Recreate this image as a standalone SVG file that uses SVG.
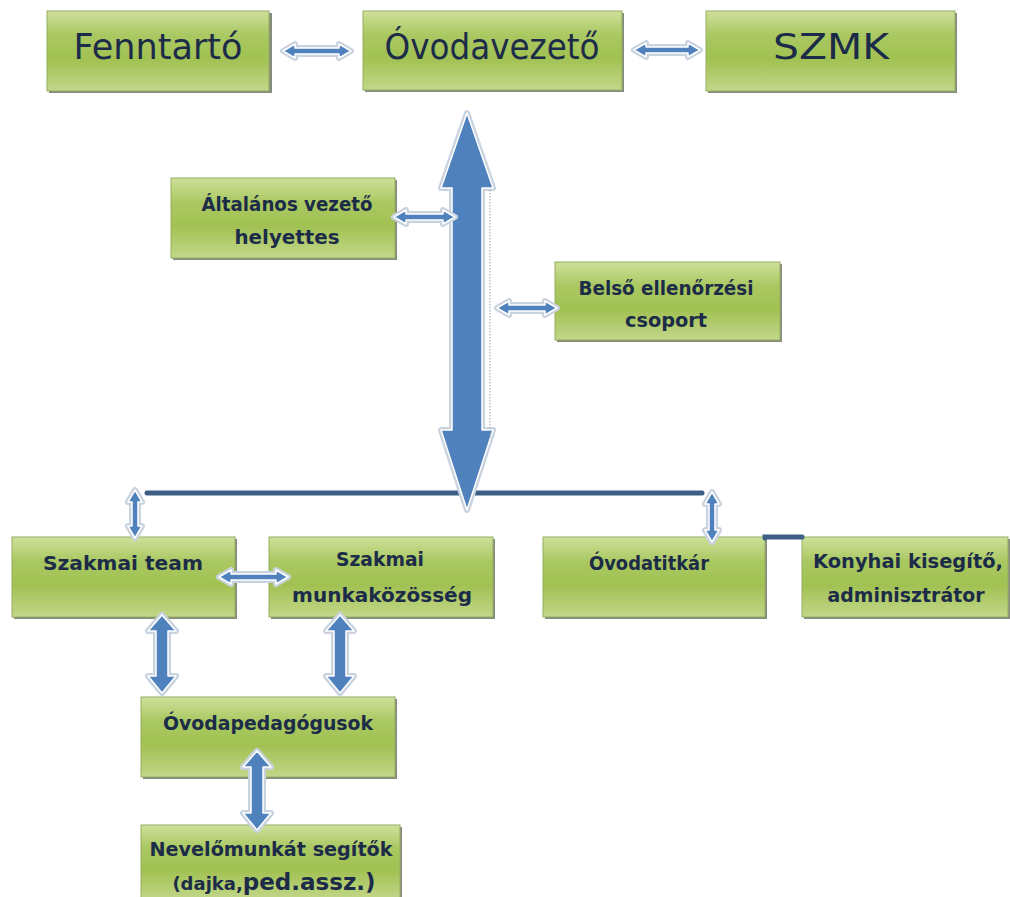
<svg xmlns="http://www.w3.org/2000/svg" width="1010" height="897" viewBox="0 0 1010 897">
<defs>
<linearGradient id="g" x1="0" y1="0" x2="0" y2="1">
<stop offset="0" stop-color="#cfe09b"/>
<stop offset="0.3" stop-color="#aac862"/>
<stop offset="0.6" stop-color="#a1c152"/>
<stop offset="1" stop-color="#c3d78a"/>
</linearGradient>
</defs>
<style>
.box{fill:url(#g);stroke:#93ad62;stroke-width:1}
.sh{fill:#5e6650;opacity:0.75}
.t{font-family:"DejaVu Sans",sans-serif;fill:#1c2c48;text-anchor:middle}
.big{font-size:35px}
.b{font-size:20px;font-weight:bold}
.halo{fill:#eef2f7;stroke:#c9d3df;stroke-width:6;stroke-linejoin:round}
.arr{fill:#4f81bd;stroke:#ffffff;stroke-width:1.5;stroke-linejoin:round}
.ln{fill:none;stroke:#3d5f87;stroke-width:5;stroke-linecap:round}
</style>
<rect width="1010" height="897" fill="#ffffff"/>
<g id="fenntarto">
<rect class="sh" x="49" y="13" width="223" height="80"/>
<rect class="box" x="47" y="11" width="222" height="80"/>
<text class="t big" x="158" y="59" textLength="169" lengthAdjust="spacingAndGlyphs">Fenntartó</text>
</g>
<g id="ovodavezeto">
<rect class="sh" x="365" y="13" width="259" height="79"/>
<rect class="box" x="363" y="11" width="259" height="79"/>
<text class="t big" x="492" y="59" textLength="215" lengthAdjust="spacingAndGlyphs">Óvodavezető</text>
</g>
<g id="szmk">
<rect class="sh" x="708" y="13" width="249" height="80"/>
<rect class="box" x="706" y="11" width="249" height="80"/>
<text class="t big" x="831" y="59" textLength="116" lengthAdjust="spacingAndGlyphs">SZMK</text>
</g>
<g id="altalanos">
<rect class="sh" x="173" y="180" width="224" height="80"/>
<rect class="box" x="171" y="178" width="224" height="80"/>
<text class="t b" x="287" y="211" textLength="171" lengthAdjust="spacingAndGlyphs">Általános vezető</text>
<text class="t b" x="287" y="244" textLength="105" lengthAdjust="spacingAndGlyphs">helyettes</text>
</g>
<g id="belso">
<rect class="sh" x="557" y="264" width="225" height="78"/>
<rect class="box" x="555" y="262" width="225" height="78"/>
<text class="t b" x="666" y="295" textLength="175" lengthAdjust="spacingAndGlyphs">Belső ellenőrzési</text>
<text class="t b" x="666" y="327" textLength="82" lengthAdjust="spacingAndGlyphs">csoport</text>
</g>
<g id="szakmai-team">
<rect class="sh" x="14" y="539" width="223" height="80"/>
<rect class="box" x="12" y="537" width="223" height="80"/>
<text class="t b" x="123" y="570" textLength="160" lengthAdjust="spacingAndGlyphs">Szakmai team</text>
</g>
<g id="szakmai-munkakozosseg">
<rect class="sh" x="271" y="539" width="224" height="80"/>
<rect class="box" x="269" y="537" width="224" height="80"/>
<text class="t b" x="380" y="566" textLength="88" lengthAdjust="spacingAndGlyphs">Szakmai</text>
<text class="t b" x="382" y="602" textLength="180" lengthAdjust="spacingAndGlyphs">munkaközösség</text>
</g>
<g id="ovodatitkar">
<rect class="sh" x="545" y="539" width="222" height="80"/>
<rect class="box" x="543" y="537" width="222" height="80"/>
<text class="t b" x="649" y="570" textLength="120" lengthAdjust="spacingAndGlyphs">Óvodatitkár</text>
</g>
<g id="konyhai">
<rect class="sh" x="804" y="539" width="206" height="80"/>
<rect class="box" x="802" y="537" width="206" height="80"/>
<text class="t b" x="908" y="568" textLength="190" lengthAdjust="spacingAndGlyphs">Konyhai kisegítő,</text>
<text class="t b" x="906" y="602" textLength="157" lengthAdjust="spacingAndGlyphs">adminisztrátor</text>
</g>
<g id="ovodapedagogusok">
<rect class="sh" x="143" y="699" width="254" height="80"/>
<rect class="box" x="141" y="697" width="254" height="80"/>
<text class="t b" x="268" y="730" textLength="210" lengthAdjust="spacingAndGlyphs">Óvodapedagógusok</text>
</g>
<g id="nevelomunkat">
<rect class="sh" x="143" y="827" width="259" height="72"/>
<rect class="box" x="141" y="825" width="259" height="75"/>
<text class="t b" x="271" y="856" textLength="243" lengthAdjust="spacingAndGlyphs">Nevelőmunkát segítők</text>
<text class="t b" x="274" y="890" style="font-size:18px">(dajka,<tspan style="font-size:23px">ped.assz.)</tspan></text>
</g>
<g id="connectors">
<path class="ln" d="M147 493 H702"/>
<path class="ln" d="M765 538 V537 H802"/>
<path class="halo" d="M467 113 L493 188 L482 188 L482 430 L493 430 L467 510 L441 430 L452 430 L452 188 L441 188 Z"/>
<path class="arr" d="M467 113 L493 188 L482 188 L482 430 L493 430 L467 510 L441 430 L452 430 L452 188 L441 188 Z"/>
<path d="M490 190 V438" fill="none" stroke="#9aa3ad" stroke-width="1" stroke-dasharray="1.5 1.5"/>
<path class="halo" d="M283 51 L295 44 L295 48 L339 48 L339 44 L351 51 L339 58 L339 54 L295 54 L295 58 Z"/>
<path class="arr" d="M283 51 L295 44 L295 48 L339 48 L339 44 L351 51 L339 58 L339 54 L295 54 L295 58 Z"/>
<path class="halo" d="M634 50 L646 43 L646 47 L688 47 L688 43 L700 50 L688 57 L688 53 L646 53 L646 57 Z"/>
<path class="arr" d="M634 50 L646 43 L646 47 L688 47 L688 43 L700 50 L688 57 L688 53 L646 53 L646 57 Z"/>
<path class="halo" d="M394 217 L406 210 L406 214 L443 214 L443 210 L455 217 L443 224 L443 220 L406 220 L406 224 Z"/>
<path class="arr" d="M394 217 L406 210 L406 214 L443 214 L443 210 L455 217 L443 224 L443 220 L406 220 L406 224 Z"/>
<path class="halo" d="M497 308 L509 301 L509 305 L545 305 L545 301 L557 308 L545 315 L545 311 L509 311 L509 315 Z"/>
<path class="arr" d="M497 308 L509 301 L509 305 L545 305 L545 301 L557 308 L545 315 L545 311 L509 311 L509 315 Z"/>
<path class="halo" d="M219 577 L231 570 L231 574 L276 574 L276 570 L288 577 L276 584 L276 580 L231 580 L231 584 Z"/>
<path class="arr" d="M219 577 L231 570 L231 574 L276 574 L276 570 L288 577 L276 584 L276 580 L231 580 L231 584 Z"/>
<path class="halo" d="M135 490 L142 502 L138 502 L138 526 L142 526 L135 538 L128 526 L132 526 L132 502 L128 502 Z"/>
<path class="arr" d="M135 490 L142 502 L138 502 L138 526 L142 526 L135 538 L128 526 L132 526 L132 502 L128 502 Z"/>
<path class="halo" d="M712 492 L719 504 L715 504 L715 530 L719 530 L712 542 L705 530 L709 530 L709 504 L705 504 Z"/>
<path class="arr" d="M712 492 L719 504 L715 504 L715 530 L719 530 L712 542 L705 530 L709 530 L709 504 L705 504 Z"/>
<path class="halo" d="M162 615 L176 631 L168 631 L168 676 L176 676 L162 693 L148 676 L156 676 L156 631 L148 631 Z"/>
<path class="arr" d="M162 615 L176 631 L168 631 L168 676 L176 676 L162 693 L148 676 L156 676 L156 631 L148 631 Z"/>
<path class="halo" d="M340 615 L354 631 L346 631 L346 676 L354 676 L340 693 L326 676 L334 676 L334 631 L326 631 Z"/>
<path class="arr" d="M340 615 L354 631 L346 631 L346 676 L354 676 L340 693 L326 676 L334 676 L334 631 L326 631 Z"/>
<path class="halo" d="M257 751 L271 767 L263 767 L263 813 L271 813 L257 830 L243 813 L251 813 L251 767 L243 767 Z"/>
<path class="arr" d="M257 751 L271 767 L263 767 L263 813 L271 813 L257 830 L243 813 L251 813 L251 767 L243 767 Z"/>
</g>
</svg>
